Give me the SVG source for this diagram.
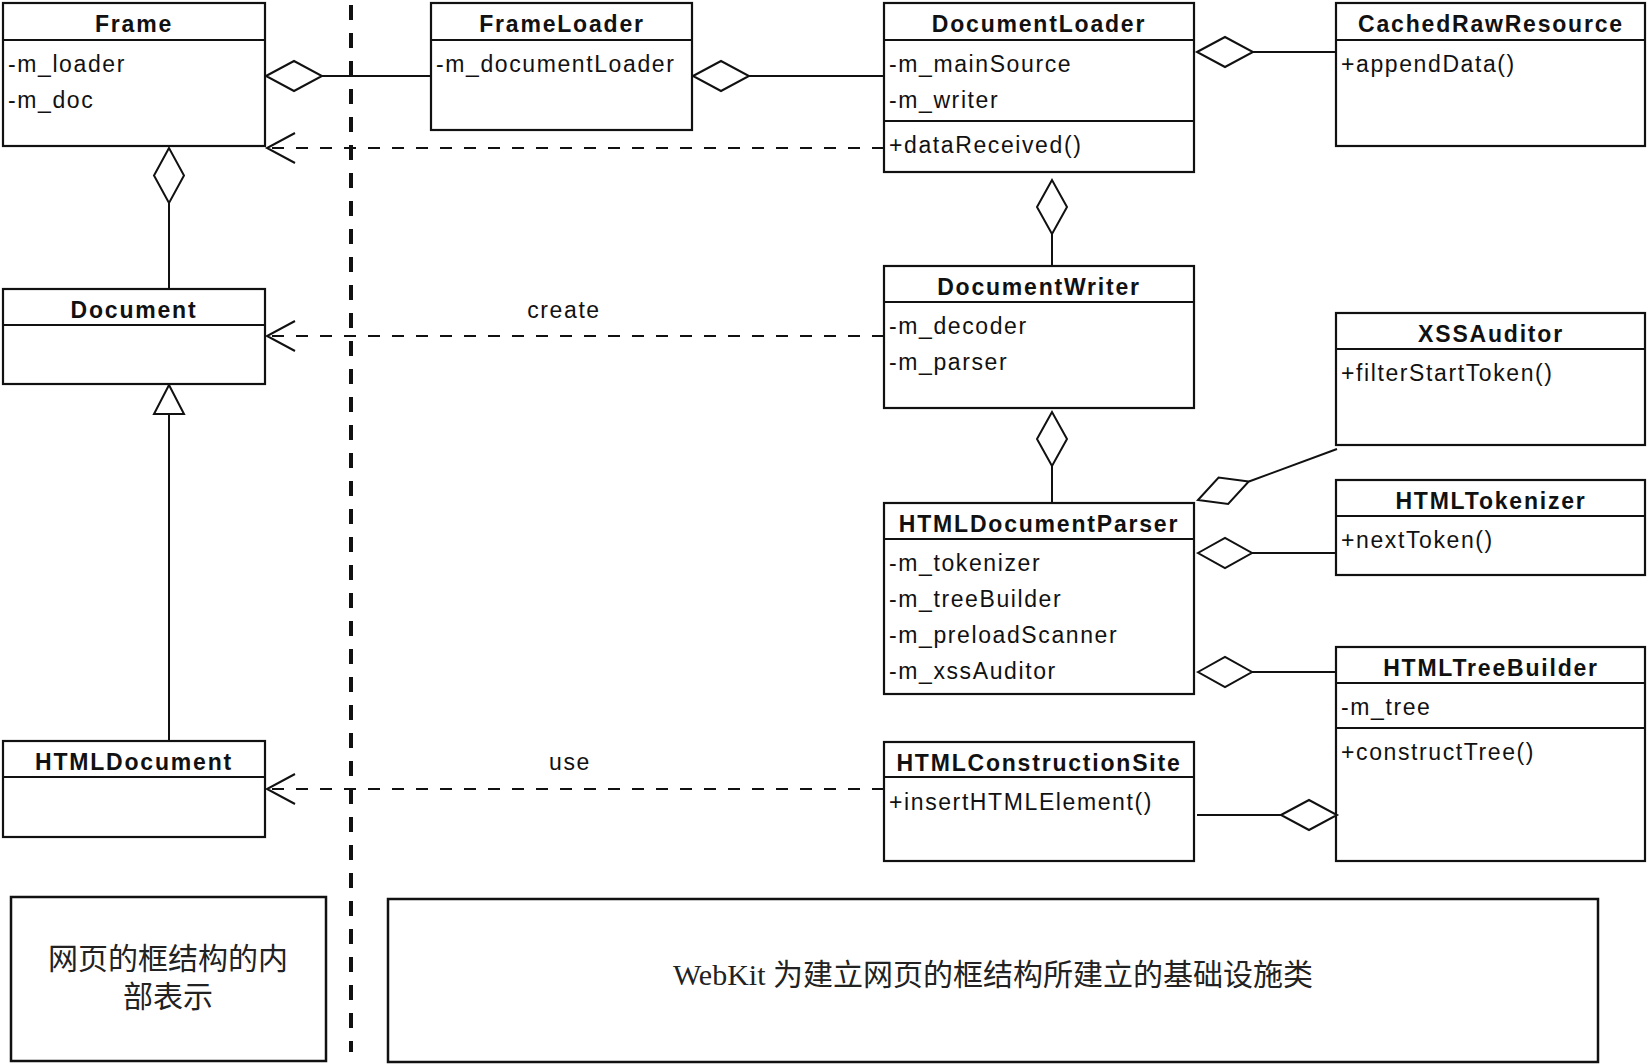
<svg xmlns="http://www.w3.org/2000/svg" width="1650" height="1064" viewBox="0 0 1650 1064">
<style>
.box{fill:#fff;stroke:#111;stroke-width:2.2}
.div{stroke:#111;stroke-width:2.2}
.t{font-family:"Liberation Sans",Arial,sans-serif;font-size:23px;font-weight:bold;fill:#111;text-anchor:middle;letter-spacing:1.8px}
.a{font-family:"Liberation Sans",Arial,sans-serif;font-size:23px;fill:#111;letter-spacing:1.6px}
.lbl{font-family:"Liberation Sans",Arial,sans-serif;font-size:23px;fill:#111;text-anchor:middle;letter-spacing:1.6px}
.ln{fill:none;stroke:#111;stroke-width:2}
.dash{fill:none;stroke:#111;stroke-width:2;stroke-dasharray:12 12}
.dia{fill:#fff;stroke:#111;stroke-width:2}
.sep{fill:none;stroke:#111;stroke-width:4;stroke-dasharray:15 13}
.note{fill:#fff;stroke:#111;stroke-width:2.5}
.cn{font-family:"Liberation Serif","Noto Sans CJK SC",serif;font-size:30px;fill:#222;text-anchor:middle}
</style>

<g id="separator">
<line class="sep" x1="351" y1="5" x2="351" y2="1052"/>
</g>

<g id="Frame">
<rect class="box" x="3" y="3" width="262" height="143"/>
<line class="div" x1="3" y1="40" x2="265" y2="40"/>
<text class="t" x="134" y="32">Frame</text>
<text class="a" x="8" y="72">-m_loader</text>
<text class="a" x="8" y="108">-m_doc</text>
</g>

<g id="FrameLoader">
<rect class="box" x="431" y="3" width="261" height="127"/>
<line class="div" x1="431" y1="40" x2="692" y2="40"/>
<text class="t" x="562" y="32">FrameLoader</text>
<text class="a" x="436" y="72">-m_documentLoader</text>
</g>

<g id="DocumentLoader">
<rect class="box" x="884" y="3" width="310" height="169"/>
<line class="div" x1="884" y1="40" x2="1194" y2="40"/>
<line class="div" x1="884" y1="121" x2="1194" y2="121"/>
<text class="t" x="1039" y="32">DocumentLoader</text>
<text class="a" x="889" y="72">-m_mainSource</text>
<text class="a" x="889" y="108">-m_writer</text>
<text class="a" x="889" y="153">+dataReceived()</text>
</g>

<g id="CachedRawResource">
<rect class="box" x="1336" y="3" width="309" height="143"/>
<line class="div" x1="1336" y1="40" x2="1645" y2="40"/>
<text class="t" x="1491" y="32">CachedRawResource</text>
<text class="a" x="1341" y="72">+appendData()</text>
</g>

<g id="Document">
<rect class="box" x="3" y="289" width="262" height="95"/>
<line class="div" x1="3" y1="325" x2="265" y2="325"/>
<text class="t" x="134" y="318">Document</text>
</g>

<g id="DocumentWriter">
<rect class="box" x="884" y="266" width="310" height="142"/>
<line class="div" x1="884" y1="302" x2="1194" y2="302"/>
<text class="t" x="1039" y="295">DocumentWriter</text>
<text class="a" x="889" y="334">-m_decoder</text>
<text class="a" x="889" y="370">-m_parser</text>
</g>

<g id="XSSAuditor">
<rect class="box" x="1336" y="313" width="309" height="132"/>
<line class="div" x1="1336" y1="349" x2="1645" y2="349"/>
<text class="t" x="1491" y="342">XSSAuditor</text>
<text class="a" x="1341" y="381">+filterStartToken()</text>
</g>

<g id="HTMLTokenizer">
<rect class="box" x="1336" y="480" width="309" height="95"/>
<line class="div" x1="1336" y1="516" x2="1645" y2="516"/>
<text class="t" x="1491" y="509">HTMLTokenizer</text>
<text class="a" x="1341" y="548">+nextToken()</text>
</g>

<g id="HTMLDocumentParser">
<rect class="box" x="884" y="503" width="310" height="191"/>
<line class="div" x1="884" y1="539" x2="1194" y2="539"/>
<text class="t" x="1039" y="532">HTMLDocumentParser</text>
<text class="a" x="889" y="571">-m_tokenizer</text>
<text class="a" x="889" y="607">-m_treeBuilder</text>
<text class="a" x="889" y="643">-m_preloadScanner</text>
<text class="a" x="889" y="679">-m_xssAuditor</text>
</g>

<g id="HTMLTreeBuilder">
<rect class="box" x="1336" y="647" width="309" height="214"/>
<line class="div" x1="1336" y1="683" x2="1645" y2="683"/>
<line class="div" x1="1336" y1="728" x2="1645" y2="728"/>
<text class="t" x="1491" y="676">HTMLTreeBuilder</text>
<text class="a" x="1341" y="715">-m_tree</text>
<text class="a" x="1341" y="760">+constructTree()</text>
</g>

<g id="HTMLDocument">
<rect class="box" x="3" y="741" width="262" height="96"/>
<line class="div" x1="3" y1="777" x2="265" y2="777"/>
<text class="t" x="134" y="770">HTMLDocument</text>
</g>

<g id="HTMLConstructionSite">
<rect class="box" x="884" y="742" width="310" height="119"/>
<line class="div" x1="884" y1="777" x2="1194" y2="777"/>
<text class="t" x="1039" y="771">HTMLConstructionSite</text>
<text class="a" x="889" y="810">+insertHTMLElement()</text>
</g>

<g id="connectors">
<!-- FrameLoader to Frame -->
<line class="ln" x1="322" y1="76" x2="431" y2="76"/>
<path class="dia" d="M266,76 L294,61 L322,76 L294,91 Z"/>
<!-- DocumentLoader to FrameLoader -->
<line class="ln" x1="749" y1="76" x2="884" y2="76"/>
<path class="dia" d="M693,76 L721,61 L749,76 L721,91 Z"/>
<!-- CachedRawResource to DocumentLoader -->
<line class="ln" x1="1253" y1="52" x2="1336" y2="52"/>
<path class="dia" d="M1197,52 L1225,37 L1253,52 L1225,67 Z"/>
<!-- DocumentLoader dependency to Frame -->
<line class="dash" x1="884" y1="148" x2="268" y2="148"/>
<path class="ln" d="M295,133 L267,148 L295,163"/>
<!-- Document to Frame -->
<line class="ln" x1="169" y1="203" x2="169" y2="289"/>
<path class="dia" d="M169,148 L154,175.5 L169,203 L184,175.5 Z"/>
<!-- DocumentWriter to DocumentLoader -->
<line class="ln" x1="1052" y1="234" x2="1052" y2="266"/>
<path class="dia" d="M1052,180 L1037,207 L1052,234 L1067,207 Z"/>
<!-- create -->
<line class="dash" x1="884" y1="336" x2="268" y2="336"/>
<path class="ln" d="M295,321 L267,336 L295,351"/>
<text class="lbl" x="564" y="318">create</text>
<!-- HTMLDocumentParser to DocumentWriter -->
<line class="ln" x1="1052" y1="466" x2="1052" y2="503"/>
<path class="dia" d="M1052,412 L1037,439 L1052,466 L1067,439 Z"/>
<!-- XSSAuditor to HTMLDocumentParser -->
<line class="ln" x1="1249" y1="481.5" x2="1337" y2="449"/>
<path class="dia" transform="translate(1198,500) rotate(-20)" d="M0,0 L27,-14 L54,0 L27,14 Z"/>
<!-- HTMLTokenizer to HTMLDocumentParser -->
<line class="ln" x1="1252" y1="553" x2="1336" y2="553"/>
<path class="dia" d="M1198,553 L1225,538 L1252,553 L1225,568 Z"/>
<!-- HTMLTreeBuilder to HTMLDocumentParser -->
<line class="ln" x1="1252" y1="672" x2="1336" y2="672"/>
<path class="dia" d="M1198,672 L1225,657 L1252,672 L1225,687 Z"/>
<!-- HTMLConstructionSite to HTMLTreeBuilder -->
<line class="ln" x1="1197" y1="815" x2="1281" y2="815"/>
<path class="dia" d="M1281,815 L1309,800 L1337,815 L1309,830 Z"/>
<!-- HTMLDocument generalization Document -->
<line class="ln" x1="169" y1="414" x2="169" y2="741"/>
<path class="dia" d="M169,385 L154,414 L184,414 Z"/>
<!-- use -->
<line class="dash" x1="884" y1="789" x2="268" y2="789"/>
<path class="ln" d="M295,774 L267,789 L295,804"/>
<text class="lbl" x="570" y="770">use</text>
</g>

<g id="note-left">
<rect class="note" x="11" y="897" width="315" height="164"/>
<text class="cn" x="168" y="969">网页的框结构的内</text>
<text class="cn" x="168" y="1007">部表示</text>
</g>

<g id="note-right">
<rect class="note" x="388" y="899" width="1210" height="163"/>
<text class="cn" x="993" y="985">WebKit 为建立网页的框结构所建立的基础设施类</text>
</g>
</svg>
